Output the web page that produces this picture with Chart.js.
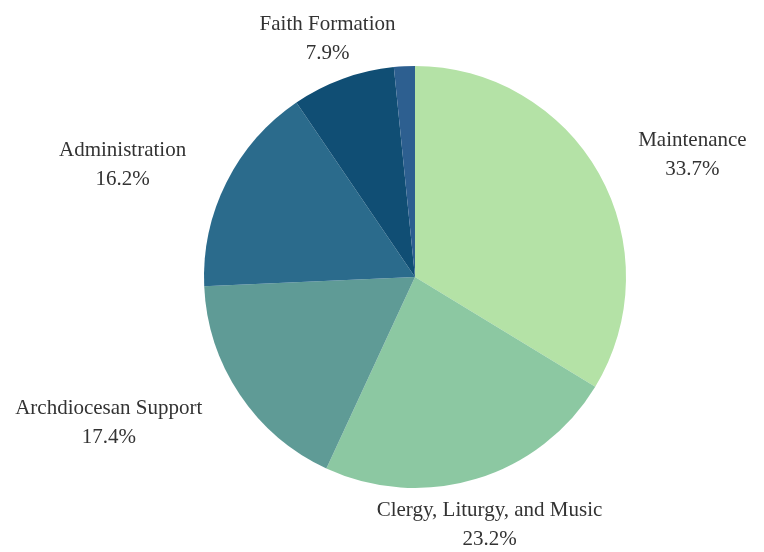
<!DOCTYPE html>
<html>
<head>
<meta charset="utf-8">
<script src="https://cdn.jsdelivr.net/npm/chart.js@4"></script>
<style>
html,body{margin:0;padding:0;background:#fff;}
#wrap{width:764px;height:552px;position:relative;}
</style>
</head>
<body>
<div id="wrap"><canvas id="c"></canvas></div>
<script>
const categories = ["Maintenance", "Clergy, Liturgy, and Music", "Archdiocesan Support", "Administration", "Faith Formation", "Other"];
const values = [33.7, 23.2, 17.4, 16.2, 7.9, 1.6];
const showLabel = [true, true, true, true, true, false];
const colors = ["#b4e2a6", "#8cc8a2", "#5f9b96", "#2b6b8c", "#104e74", "#2d5f90"];

const labelPlugin = {
  id: 'outsideLabels',
  afterDatasetsDraw(chart) {
    const ctx = chart.ctx;
    const meta = chart.getDatasetMeta(0);
    ctx.save();
    ctx.font = '21px "Liberation Serif", "Times New Roman", serif';
    ctx.fillStyle = '#333333';
    ctx.textAlign = 'center';
    ctx.textBaseline = 'middle';
    const lineH = 29;
    meta.data.forEach((arc, i) => {
      if (!showLabel[i]) return;
      const p = arc.getProps(['x','y','startAngle','endAngle','outerRadius'], true);
      const mid = (p.startAngle + p.endAngle) / 2;
      const dist = p.outerRadius + 45;
      const lines = [categories[i], values[i].toFixed(1) + '%'];
      const w = Math.max(...lines.map(l => ctx.measureText(l).width));
      const cosA = Math.cos(mid), sinA = Math.sin(mid);
      let cx = p.x + dist * cosA;
      const cy = p.y + dist * sinA + 3;
      if (Math.abs(cosA) > 0.5) cx += Math.sign(cosA) * w / 2;
      lines.forEach((l, k) => {
        ctx.fillText(l, cx, cy + (k - 0.5) * lineH);
      });
    });
    ctx.restore();
  }
};

new Chart(document.getElementById('c'), {
  type: 'pie',
  data: {
    labels: categories,
    datasets: [{
      data: values,
      backgroundColor: colors,
      borderWidth: 0
    }]
  },
  options: {
    responsive: true,
    maintainAspectRatio: false,
    animation: false,
    layout: { padding: { left: 204, right: 138, top: 66, bottom: 64 } },
    plugins: {
      legend: { display: false },
      tooltip: { enabled: false }
    }
  },
  plugins: [labelPlugin]
});
</script>
</body>
</html>
